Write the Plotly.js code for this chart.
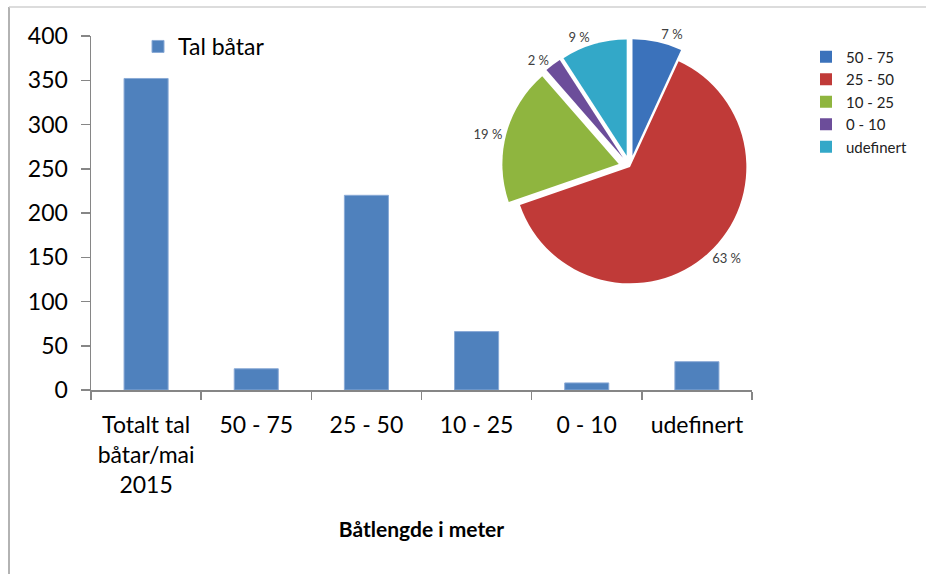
<!DOCTYPE html>
<html>
<head>
<meta charset="utf-8">
<script src="https://cdn.plot.ly/plotly-3.0.1.min.js"></script>
<style>html,body{margin:0;padding:0;background:#fff;}#chart{width:926px;height:574px;}</style>
</head>
<body>
<div id="chart"></div>
<script>
// ---- data ----
const barCategories = ["Totalt tal båtar/mai 2015", "50 - 75", "25 - 50", "10 - 25", "0 - 10", "udefinert"];
const barTickLabels = ["Totalt tal<br>båtar/mai<br>2015", "50 - 75", "25 - 50", "10 - 25", "0 - 10", "udefinert"];
const barValues = [352, 24, 220, 66, 8, 32];
const barSeriesName = "Tal båtar";

const pieLabels = ["50 - 75", "25 - 50", "10 - 25", "0 - 10", "udefinert"];
const pieValues = [24, 220, 66, 8, 32];
const pieColors = ["#3b72bb", "#c03a38", "#8fb53f", "#6c4d9a", "#33a8c8"];
const piePull = [0.1, 0, 0.1, 0.1, 0.1];

const yTickVals = [0, 50, 100, 150, 200, 250, 300, 350, 400];
const gridFullWidth = [50, 100];                  // gridlines running the full plot width
const gridLeftPart = [150, 200, 250, 300, 350, 400]; // gridlines stopping at the inset pie

const W = 926, H = 574;
const px = v => v / W;
const py = v => 1 - v / H;
const PL = 91, PR = 752, PT = 36, PB = 390;

const pieTotal = pieValues.reduce((a, b) => a + b, 0);
const pieText = pieValues.map(v => Math.round(v / pieTotal * 100) + " %");

const FONT = "Lato, 'Open Sans', sans-serif";
const GRID = "#868686";

const traces = [
  {
    type: "bar",
    x: barCategories,
    y: barValues,
    name: barSeriesName,
    marker: {color: "#4f81bd", line: {color: "#8aaad6", width: 1}},
    showlegend: true,
    legend: "legend",
    hoverinfo: "x+y"
  },
  {
    type: "pie",
    labels: pieLabels,
    values: pieValues,
    text: pieText,
    textinfo: "text",
    textposition: "outside",
    textfont: {family: FONT, size: 13, color: "#404040"},
    marker: {colors: pieColors, line: {width: 0}},
    pull: piePull,
    sort: false,
    direction: "clockwise",
    rotation: 0,
    domain: {x: [px(500), px(760)], y: [py(295), py(39)]},
    legend: "legend2",
    showlegend: true
  }
];

const hiddenAxis = {showgrid: false, showline: false, showticklabels: false, ticks: "", zeroline: false, fixedrange: true};

const layout = {
  width: W, height: H,
  margin: {l: 0, r: 0, t: 0, b: 0},
  paper_bgcolor: "#ffffff",
  plot_bgcolor: "rgba(0,0,0,0)",
  font: {family: FONT, color: "#000"},
  bargap: 0.6,
  xaxis: {
    domain: [px(PL), px(PR)],
    type: "category",
    tickmode: "array",
    tickvals: barCategories,
    ticktext: barTickLabels,
    tickson: "boundaries",
    ticks: "outside",
    ticklen: 8,
    tickcolor: GRID,
    tickwidth: 1.5,
    ticklabelstandoff: 14,
    tickfont: {family: FONT, size: 23, color: "#000"},
    showline: true,
    linecolor: GRID,
    linewidth: 1.5,
    showgrid: false,
    title: {text: "<b>Båtlengde i meter</b>", font: {family: FONT, size: 21, color: "#000"}, standoff: 25},
    fixedrange: true
  },
  yaxis: {
    domain: [py(PB), py(PT)],
    range: [0, 400],
    tickmode: "array",
    tickvals: yTickVals,
    ticks: "outside",
    ticklen: 9,
    tickcolor: GRID,
    tickwidth: 1.5,
    ticklabelstandoff: 8,
    tickfont: {family: FONT, size: 23, color: "#000"},
    showline: true,
    linecolor: GRID,
    linewidth: 1.5,
    showgrid: false,
    zeroline: false,
    fixedrange: true
  },
  // gridlines 50 and 100: full width
  yaxis3: Object.assign({}, hiddenAxis, {
    overlaying: "y", anchor: "x", range: [0, 400],
    tickmode: "array", tickvals: gridFullWidth,
    showgrid: true, gridcolor: GRID, gridwidth: 1.5
  }),
  // gridlines 150..400: only left of the inset pie panel
  xaxis2: Object.assign({}, hiddenAxis, {domain: [px(PL), px(414)], anchor: "y2", range: [0, 1]}),
  yaxis2: Object.assign({}, hiddenAxis, {
    domain: [py(PB), py(PT)], anchor: "x2", range: [0, 400],
    tickmode: "array", tickvals: gridLeftPart,
    showgrid: true, gridcolor: GRID, gridwidth: 1.5
  }),
  legend: {
    x: px(138), y: py(25), xanchor: "left", yanchor: "top",
    bgcolor: "rgba(0,0,0,0)",
    font: {family: FONT, size: 23, color: "#000"}
  },
  legend2: {
    x: px(806), y: py(102), xanchor: "left", yanchor: "middle",
    bgcolor: "rgba(0,0,0,0)",
    font: {family: FONT, size: 15, color: "#222"},
    traceorder: "normal"
  },
  shapes: [
    {type: "line", xref: "paper", yref: "paper", x0: px(9), x1: px(9), y0: 0, y1: py(7),
     line: {color: "#9a9a9a", width: 1.5}, layer: "above"},
    {type: "line", xref: "paper", yref: "paper", x0: px(9), x1: 1, y0: py(7), y1: py(7),
     line: {color: "#d0d0d0", width: 1.5}, layer: "above"}
  ]
};

Plotly.newPlot("chart", traces, layout, {displayModeBar: false, staticPlot: true});
</script>
</body>
</html>
